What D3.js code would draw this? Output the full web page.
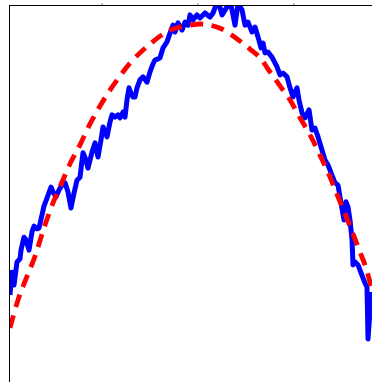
<!DOCTYPE html>
<html lang="en">
  <head>
    <meta charset="utf-8" />
    <title>Measured values and fitted curve</title>
    <script src="https://cdnjs.cloudflare.com/ajax/libs/d3/7.8.5/d3.min.js"></script>
    <style>
      html, body { margin: 0; padding: 0; background: #fff; }
      svg { display: block; }
    </style>
  </head>
  <body>
    <div id="plot"></div>
    <script type="text/javascript">
      // measured series
      const measuredX = [1.13, 1.65, 2.17, 2.96, 3.74, 4.0, 4.78, 5.3, 6.08, 6.87, 7.39, 8.17, 8.69, 9.47, 9.99,
        10.78, 11.82, 12.34, 13.12, 13.9, 14.69, 15.47, 16.25, 17.03, 17.82, 18.6, 19.38, 20.16, 20.94, 21.46,
        22.51, 23.29, 24.07, 24.85, 25.38, 26.42, 27.2, 27.72, 28.5, 29.29, 29.81, 30.59, 31.11, 31.63, 32.15,
        32.67, 33.2, 33.72, 34.24, 35.02, 35.8, 36.85, 37.63, 38.41, 38.93, 39.71, 40.24, 41.02, 42.06, 42.84,
        43.62, 44.15, 44.93, 45.97, 46.75, 47.53, 48.05, 48.84, 49.88, 50.66, 51.97, 53.27, 54.05, 55.36, 56.4,
        57.7, 58.49, 59.79, 60.57, 61.62, 62.4, 63.18, 64.23, 65.0, 65.78, 66.57, 67.09, 67.61, 68.39, 69.43,
        70.74, 71.52, 72.3, 73.35, 74.13, 74.91, 75.95, 76.47, 77.26, 78.04, 79.08, 79.86, 80.64, 81.43, 82.47,
        83.25, 84.03, 84.82, 85.86, 86.64, 87.42, 88.21, 88.73, 89.25, 89.77, 90.29, 90.55, 91.08, 91.86, 92.64,
        93.68, 94.2, 94.46, 94.99, 95.25];
      const measuredY = [23.7, 29.7, 26.3, 32.4, 33.2, 35.5, 38.9, 38.2, 35.5, 40.3, 41.8, 41.1, 41.3, 44.7, 47.1,
        49.2, 52.1, 50.8, 49.5, 51.3, 52.6, 53.2, 50.8, 46.6, 50.5, 53.9, 54.7, 61.1, 59.2, 57.1,
        61.3, 63.7, 60.0, 64.5, 67.9, 65.3, 69.2, 71.1, 70.5, 71.1, 70.3, 71.8, 70.5, 75.0, 78.2,
        76.8, 75.8, 75.8, 78.2, 80.3, 81.1, 79.7, 82.4, 84.5, 85.5, 85.8, 86.1, 88.7, 90.3, 92.6,
        94.7, 92.9, 95.3, 93.4, 95.5, 94.7, 97.4, 96.1, 97.4, 96.6, 97.9, 96.8, 97.9, 101.3, 97.4,
        99.5, 101.3, 94.7, 100.3, 98.7, 94.7, 95.5, 92.9, 94.2, 91.6, 88.7, 90.0, 87.4, 87.6, 86.3,
        83.7, 81.6, 82.1, 81.1, 78.2, 75.8, 78.2, 75.0, 71.6, 70.3, 72.4, 67.1, 67.6, 65.3, 61.8,
        59.2, 57.9, 55.8, 53.2, 52.6, 47.9, 43.4, 48.2, 46.8, 43.4, 38.2, 31.6, 32.4, 31.6, 29.5,
        26.8, 25.8, 12.1, 19.7, 24.5];

      // fitted curve
      const fitX = [1.13, 3.22, 5.3, 7.65, 9.99, 12.34, 14.69, 16.77, 19.38, 21.99, 24.59, 27.2, 29.81, 32.41,
        35.02, 37.63, 40.24, 42.84, 45.45, 48.05, 50.66, 53.27, 55.88, 58.49, 61.1, 63.7, 66.31, 68.92, 71.52,
        74.13, 76.74, 79.34, 81.95, 84.56, 87.17, 89.77, 92.38, 93.94, 95.5];
      const fitY = [15.0, 22.4, 27.9, 33.9, 41.3, 47.9, 53.4, 58.2, 63.2, 68.7, 73.4, 77.6, 81.3, 84.7,
        87.4, 89.7, 91.8, 93.4, 94.2, 94.7, 95.0, 94.7, 93.9, 92.4, 90.5, 88.4, 86.1, 82.4, 78.7,
        75.0, 70.3, 65.8, 60.5, 54.7, 48.2, 41.8, 35.0, 30.8, 25.0];

      const xTicks = [25, 50, 75];

      const width = 372, height = 382;
      const axLeft = 9.5, axTop = 5.5, axRight = 374, axBottom = 386;

      const svg = d3.select("#plot").append("svg")
        .attr("width", width)
        .attr("height", height);

      const x = d3.scaleLinear().domain([1, 95.5]).range([axLeft, 372]);
      const y = d3.scaleLinear().domain([0, 100]).range([385, 5]);

      svg.append("clipPath").attr("id", "axes-clip")
        .append("rect")
        .attr("x", axLeft).attr("y", axTop)
        .attr("width", axRight - axLeft).attr("height", axBottom - axTop);

      const measured = measuredX.map((d, i) => [d, measuredY[i]]);
      const fit = fitX.map((d, i) => [d, fitY[i]]);

      const line = d3.line().x(d => x(d[0])).y(d => y(d[1]));
      const smooth = d3.line().x(d => x(d[0])).y(d => y(d[1])).curve(d3.curveMonotoneX);

      const g = svg.append("g").attr("clip-path", "url(#axes-clip)");

      g.append("path")
        .datum(measured)
        .attr("fill", "none")
        .attr("stroke", "#0000ff")
        .attr("stroke-width", 5)
        .attr("stroke-linejoin", "round")
        .attr("d", line);

      g.append("path")
        .datum(fit)
        .attr("fill", "none")
        .attr("stroke", "#ff0000")
        .attr("stroke-width", 4.8)
        .attr("stroke-dasharray", "13,8.5")
        .attr("d", smooth);

      // spines (right and bottom lie outside the picture)
      svg.append("rect")
        .attr("x", axLeft).attr("y", axTop)
        .attr("width", axRight - axLeft).attr("height", axBottom - axTop)
        .attr("fill", "none")
        .attr("stroke", "#000")
        .attr("stroke-width", 1);

      const axis = svg.append("g")
        .attr("transform", `translate(0,${axTop})`)
        .call(d3.axisTop(x).tickValues(xTicks).tickSize(2).tickFormat(""));
      axis.select(".domain").remove();
      axis.selectAll(".tick line").attr("stroke", "#555");
    </script>
  </body>
</html>
